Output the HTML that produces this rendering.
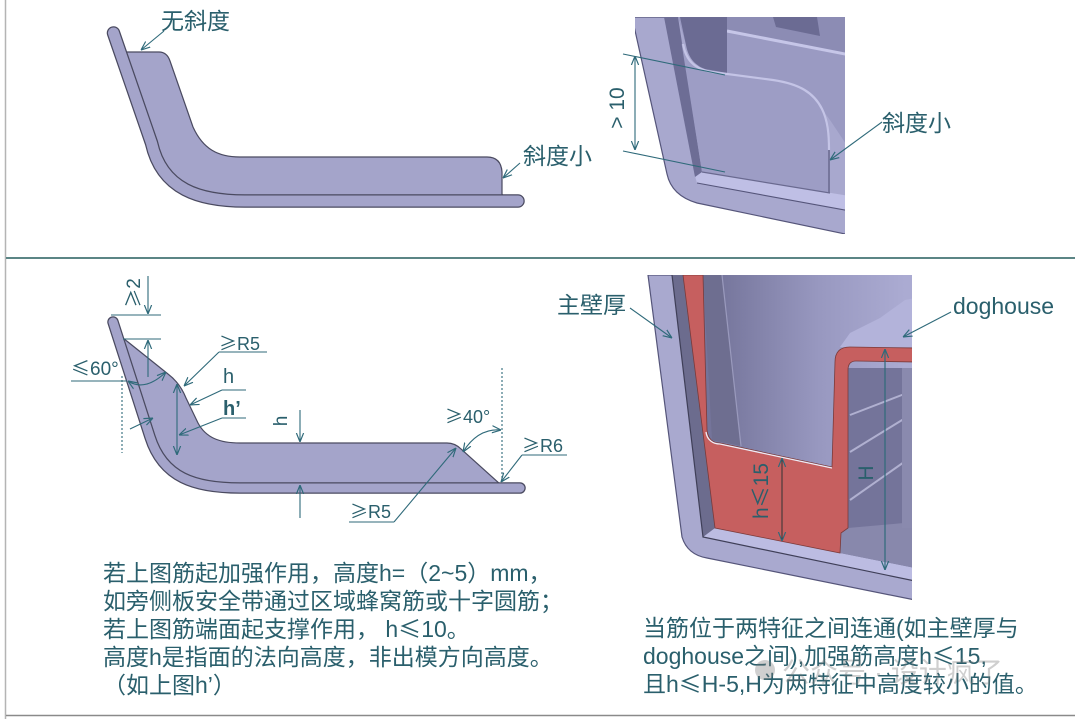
<!DOCTYPE html>
<html><head><meta charset="utf-8">
<style>
html,body{margin:0;padding:0;background:#fff;}
svg{display:block;}
text{font-family:"Liberation Sans","Noto Sans CJK SC",sans-serif;fill:#2a5f6c;}
.cj{font-family:"Noto Sans CJK SC","WenQuanYi Zen Hei",sans-serif;}
.ln{stroke:#2f6a7a;stroke-width:1.1;fill:none;}
</style></head><body>
<svg width="1080" height="719" viewBox="0 0 1080 719" xmlns="http://www.w3.org/2000/svg">
<defs>
<marker id="a" viewBox="0 0 10 10" refX="10" refY="5" markerWidth="9" markerHeight="9" markerUnits="userSpaceOnUse" orient="auto-start-reverse">
<path d="M0,1 L10,5 L0,9" fill="none" stroke="#2f6a7a" stroke-width="1.3"/>
</marker>
<clipPath id="c1"><rect x="635" y="17" width="210" height="217"/></clipPath>
<clipPath id="c2"><rect x="640" y="275" width="272" height="325"/></clipPath>
<linearGradient id="g1" x1="715" y1="0" x2="905" y2="0" gradientUnits="userSpaceOnUse">
<stop offset="0" stop-color="#74749a"/><stop offset="0.55" stop-color="#9898c0"/><stop offset="1" stop-color="#ababd2"/>
</linearGradient>
</defs>
<rect width="1080" height="719" fill="#fff"/>
<!-- frame -->
<line x1="5.5" y1="0" x2="5.5" y2="719" stroke="#b4b4b4" stroke-width="1.5"/>
<line x1="6" y1="258" x2="1075" y2="258" stroke="#5b8585" stroke-width="2"/>
<line x1="6" y1="715.5" x2="1075" y2="715.5" stroke="#8a8a8a" stroke-width="1.5"/>

<!-- ===== top-left profile ===== -->
<path d="M119,52 L159,52 Q167,52 170,61 L193,127 C203,149 218,157 240,157 L487,157 Q501,157 502,172 L502,194 Q503,197 508,198 L245,201 C200,201 162,190 151.5,143 Z" fill="#a4a4ca" stroke="#4a4a60" stroke-width="1.2"/>
<path d="M113.5,33 L151.5,143 C162,190 200,201 245,201 L518,201" fill="none" stroke="#4a4a60" stroke-width="13.5" stroke-linecap="round" stroke-linejoin="round"/>
<path d="M113.5,33 L151.5,143 C162,190 200,201 245,201 L518,201" fill="none" stroke="#a4a4ca" stroke-width="11" stroke-linecap="round" stroke-linejoin="round"/>
<text x="161" y="29" font-size="23">无斜度</text>
<line class="ln" x1="164" y1="31" x2="141" y2="50" marker-end="url(#a)"/>
<text x="523" y="164" font-size="23">斜度小</text>
<line class="ln" x1="520" y1="163" x2="503" y2="178" marker-end="url(#a)"/>

<!-- ===== top-right picture ===== -->
<g clip-path="url(#c1)">
<path d="M632,17 L667,174 C670,188 680,198 697,203 L850,235 L850,17 Z" fill="#a8a8ce" stroke="#55557a" stroke-width="1.2"/>
<polygon points="695,176 702,172 850,196 850,211 697,183" fill="#bfbfe5"/>
<line x1="697" y1="183" x2="850" y2="211" stroke="#55557a" stroke-width="1.1"/>
<polygon points="664,17 678,17 702,172 695,177" fill="#6d6d95"/>
<polygon points="678,17 850,17 850,150 830,120 810,93 773,82 723,75 700,68 688,52" fill="#9a9ac2"/>
<polygon points="727,17 850,17 850,54 727,31" fill="#8c8cb4"/>
<polygon points="773,17 817,17 820,36 776,27" fill="#6b6b93"/>
<line x1="727" y1="31" x2="850" y2="55" stroke="#c6c6e8" stroke-width="3"/>
<path d="M680,17 L727,17 L727,73 L705,69 C692,64 688,55 686,45 Z" fill="#6b6b93"/>
<path d="M681,40 C684,58 692,68 710,71 L773,79 C800,83 815,92 823,108 C829,120 830,135 830,150 L830,193 L702,172 Z" fill="#9d9dc5"/>
<path d="M683,44 C686,60 694,69 712,72 L773,80 C800,84 814,93 822,109 C828,121 829,135 829,150" fill="none" stroke="#c4c4e6" stroke-width="2.2"/>
<line x1="829" y1="150" x2="829" y2="193" stroke="#76769c" stroke-width="2"/>
<line x1="702" y1="172" x2="830" y2="193" stroke="#6a6a90" stroke-width="1.2"/>
</g>
<line class="ln" x1="623" y1="54" x2="725" y2="75"/>
<line class="ln" x1="623" y1="151" x2="725" y2="172"/>
<line class="ln" x1="635" y1="56" x2="635" y2="150" marker-start="url(#a)" marker-end="url(#a)"/>
<text transform="translate(624,108) rotate(-90)" text-anchor="middle" font-size="21">&gt; 10</text>
<text x="882" y="131" font-size="23">斜度小</text>
<line class="ln" x1="882" y1="122" x2="830" y2="160" marker-end="url(#a)"/>

<!-- ===== bottom-left profile ===== -->
<path d="M118,338 L123,338 L168,374 Q180,383 186,398 L198,423 C206,438 220,443 240,443 L447,443 Q455,443 461,449 L500,484 L245,488 C195,488 163,478 150,437 Z" fill="#a4a4ca" stroke="#4a4a60" stroke-width="1.2"/>
<path d="M113,322 L150,437 C163,478 195,488 240,488 L520,488" fill="none" stroke="#4a4a60" stroke-width="11.5" stroke-linecap="round" stroke-linejoin="round"/>
<path d="M113,322 L150,437 C163,478 195,488 240,488 L520,488" fill="none" stroke="#a4a4ca" stroke-width="9" stroke-linecap="round" stroke-linejoin="round"/>

<text transform="translate(140,293) rotate(-90)" text-anchor="middle" font-size="19"><tspan class="cj">≥</tspan>2</text>
<line class="ln" x1="148" y1="276" x2="148" y2="314" marker-end="url(#a)"/>
<line class="ln" x1="111" y1="315" x2="161" y2="315"/>
<line class="ln" x1="123" y1="339" x2="161" y2="339"/>
<line class="ln" x1="148" y1="377" x2="148" y2="340" marker-end="url(#a)"/>
<text x="71" y="375" font-size="19"><tspan class="cj">≤</tspan>60°</text>
<line class="ln" x1="71" y1="381" x2="127" y2="381"/>
<path class="ln" d="M128,381 Q145,392 166,372" marker-start="url(#a)" marker-end="url(#a)"/>
<line class="ln" x1="122" y1="376" x2="122" y2="453" stroke-dasharray="2,2"/>
<line class="ln" x1="130" y1="429" x2="153" y2="418" marker-end="url(#a)"/>
<text x="219" y="350" font-size="18"><tspan class="cj">≥</tspan>R5</text>
<line class="ln" x1="219" y1="352" x2="267" y2="352"/>
<line class="ln" x1="219" y1="352" x2="184" y2="386" marker-end="url(#a)"/>
<text x="223" y="383" font-size="20">h</text>
<line class="ln" x1="222" y1="390" x2="246" y2="390"/>
<line class="ln" x1="222" y1="390" x2="190" y2="405" marker-end="url(#a)"/>
<text x="223" y="415" font-size="20" font-weight="bold">h’</text>
<line class="ln" x1="222" y1="418" x2="246" y2="418"/>
<line class="ln" x1="222" y1="418" x2="179" y2="435" marker-end="url(#a)"/>
<line class="ln" x1="177" y1="384" x2="177" y2="455" marker-start="url(#a)" marker-end="url(#a)"/>
<text transform="translate(287,421) rotate(-90)" text-anchor="middle" font-size="19">h</text>
<line class="ln" x1="300" y1="410" x2="300" y2="442" marker-end="url(#a)"/>
<line class="ln" x1="300" y1="518" x2="300" y2="485" marker-end="url(#a)"/>
<text x="445" y="423" font-size="18"><tspan class="cj">≥</tspan>40°</text>
<path class="ln" d="M463,452 Q478,428 501,430" marker-start="url(#a)" marker-end="url(#a)"/>
<line class="ln" x1="502" y1="368" x2="502" y2="482" stroke-dasharray="2,2"/>
<text x="522" y="452" font-size="18"><tspan class="cj">≥</tspan>R6</text>
<line class="ln" x1="522" y1="455" x2="567" y2="455"/>
<line class="ln" x1="522" y1="455" x2="501" y2="482" marker-end="url(#a)"/>
<text x="350" y="518" font-size="18"><tspan class="cj">≥</tspan>R5</text>
<line class="ln" x1="349" y1="522" x2="394" y2="522"/>
<line class="ln" x1="394" y1="522" x2="456" y2="448" marker-end="url(#a)"/>

<!-- ===== bottom-right picture ===== -->
<g clip-path="url(#c2)">
<path d="M648,275 L682,537 C686,550 695,556 707,558 L915,600 L915,275 Z" fill="#a9a9cf" stroke="#55557a" stroke-width="1.2"/>
<rect x="700" y="275" width="215" height="200" fill="url(#g1)"/>
<polygon points="840,347 850,333 880,318 905,300 915,298 915,348" fill="#b3b3da"/>
<polygon points="703,275 722,275 741,446 712,440" fill="#6e6e90"/>
<line x1="722" y1="275" x2="741" y2="446" stroke="#9a9abd" stroke-width="1.2"/>
<polygon points="703,537 715,528 915,566 915,581" fill="#bcbce2"/>
<polygon points="672,275 684,275 715,528 703,537" fill="#6c6c8e"/>
<path d="M672,275 L703,537 L915,581" fill="none" stroke="#3f3f58" stroke-width="1.2"/>
<polygon points="848,368 915,368 915,568 840,553 841,533 848,528" fill="#74749a"/>
<polygon points="841,533 848,528 915,522 915,568 840,553" fill="#8888ac"/>
<line x1="850" y1="415" x2="907" y2="393" stroke="#b0b0d0" stroke-width="2"/>
<line x1="850" y1="452" x2="907" y2="417" stroke="#b0b0d0" stroke-width="2"/>
<line x1="850" y1="500" x2="907" y2="460" stroke="#b0b0d0" stroke-width="2"/>
<rect x="902" y="368" width="13" height="160" fill="#8a8aae"/>
<path d="M683,275 L703,275 L707,430 C708,439 713,443 720,443 L832,467 L835,362 C835,352 840,347 850,347 L915,348 L915,362 L856,361 C851,361 848,364 848,370 L848,528 L841,533 L840,553 L715,528 Z" fill="#c65f5f" stroke="#7a3a3a" stroke-width="0.8"/>
<path d="M706,432 C707,440 713,444 720,444 L832,468" fill="none" stroke="#ececf7" stroke-width="1.3"/>
</g>
<line x1="885" y1="349" x2="885" y2="570" stroke="#2f6a7a" stroke-width="1.2" marker-start="url(#a)" marker-end="url(#a)"/>
<text transform="translate(873,473) rotate(-90)" text-anchor="middle" font-size="21">H</text>
<line x1="782" y1="458" x2="782" y2="541" stroke="#333" stroke-width="1" marker-start="url(#a)" marker-end="url(#a)"/>
<text transform="translate(768,491) rotate(-90)" text-anchor="middle" font-size="21">h<tspan class="cj">≤</tspan>15</text>
<text x="557" y="313" font-size="23">主壁厚</text>
<line class="ln" x1="630" y1="308" x2="672" y2="338" marker-end="url(#a)"/>
<text x="953" y="314" font-size="23">doghouse</text>
<line class="ln" x1="951" y1="312" x2="903" y2="337" marker-end="url(#a)"/>

<!-- ===== paragraphs ===== -->
<g font-size="23">
<text x="103" y="581">若上图筋起加强作用，高度h=（2~5）mm，</text>
<text x="103" y="609">如旁侧板安全带通过区域蜂窝筋或十字圆筋；</text>
<text x="103" y="637" xml:space="preserve">若上图筋端面起支撑作用， h<tspan class="cj">≤</tspan>10。</text>
<text x="103" y="665">高度h是指面的法向高度，非出模方向高度。</text>
<text x="103" y="693">（如上图h’）</text>
<text x="643" y="636">当筋位于两特征之间连通(如主壁厚与</text>
<text x="643" y="664">doghouse之间),加强筋高度h<tspan class="cj">≤</tspan>15,</text>
<text x="643" y="692">且h<tspan class="cj">≤</tspan>H-5,H为两特征中高度较小的值。</text>
</g>
<!-- watermark -->
<g opacity="0.35">
<circle cx="765" cy="670" r="10" fill="#777"/>
<text x="782" y="682" font-size="28" style="fill:#777">公众号 · 设计疯了</text>
</g>
</svg>
</body></html>
